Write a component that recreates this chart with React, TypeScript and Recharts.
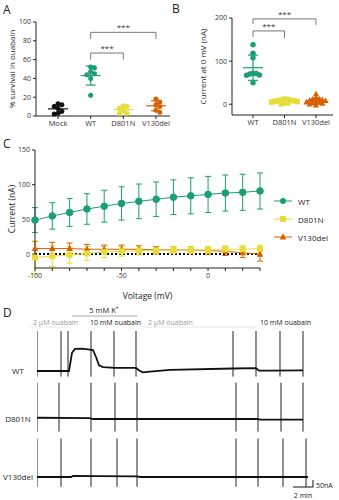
import React from "react";
import {
  ScatterChart,
  Scatter,
  XAxis,
  YAxis,
  ErrorBar,
  ReferenceLine,
  LineChart,
  Line,
} from "recharts";

const green = "#1b9e77";
const yellow = "#e8dc3a";
const orange = "#d95f02";
const black = "#111";

// A: % survival in ouabain
const groupsA = ["Mock", "WT", "D801N", "V130del"];
const mockA = [13, 12, 10, 8, 5, 3, 2];
const wtA = [52, 51, 47, 45, 44, 40, 22];
const d801nA = [11, 10, 8, 6, 3, 3];
const v130A = [18, 15, 12, 10, 6, 4];

// B: current at 0 mV
const groupsB = ["WT", "D801N", "V130del"];
const wtB = [138, 118, 108, 72, 71, 70, 68, 67, 50];
const d801nB = [12, 11, 10, 9, 8, 8, 7, 6, 5, 4, 3, 1];
const v130B = [24, 15, 12, 11, 10, 9, 8, 6, 5, 4, 3, 2, 0, -2];

// C: I-V curves
const voltage = [-100, -90, -80, -70, -60, -50, -40, -30, -20, -10, 0, 10, 20, 30];
const wtC = [49, 55, 60, 65, 69, 73, 76, 79, 82, 84, 86, 88, 89, 91];
const wtSdC = [18, 19, 20, 22, 23, 24, 25, 25, 25, 26, 26, 26, 26, 26];
const d801nC = [-5, -3, -1, 1, 3, 4, 5, 5, 6, 6, 6, 7, 7, 8];
const d801nSdC = [24, 15, 12, 10, 8, 7, 6, 5, 5, 5, 5, 5, 5, 5];
const v130C = [8, 8, 8, 7, 7, 7, 7, 6, 6, 6, 5, 4, 2, 0];
const v130SdC = [10, 9, 8, 7, 6, 6, 5, 5, 5, 5, 5, 6, 7, 10];

// D: traces, [minutes, nA]
const wtTrace = [
  [0, 0], [3.2, 0], [3.5, 130], [3.8, 158], [4.5, 160], [5.3, 153], [5.6, 150],
  [5.9, 100], [6.2, 40], [6.6, 28], [7.8, 22], [9.9, 22], [10.3, 0], [10.6, -10],
  [11.3, -4], [13.3, 8], [19.6, 18], [21.9, 20], [22.2, 2], [23.3, 2], [26.6, 4],
];
const d801nTrace = [[0, 9], [5.3, 6], [5.6, 0], [22, 0], [22.3, -4], [26.6, -4]];
const v130Trace = [[0, 0], [3.4, 0], [3.6, 7], [6, 6], [10, 5], [10.3, 0], [27.1, 0]];
const wtSpikes = [0, 2.4, 3.1, 5.4, 7.7, 9.9, 19.6, 21.9, 24.3, 26.6];
const d801nSpikes = [0, 2.2, 5.4, 7.8, 10.0, 19.9, 22.1, 24.4, 26.6];
const v130Spikes = [0, 2.4, 5.4, 8.0, 10.0, 19.9, 22.1, 24.6, 26.9];

const mean = (a: number[]) => a.reduce((s, v) => s + v, 0) / a.length;
const sd = (a: number[]) => {
  const m = mean(a);
  return Math.sqrt(a.reduce((s, v) => s + (v - m) ** 2, 0) / (a.length - 1));
};

// simple beeswarm so the dots don't sit on top of each other
function dodge(vals: number[], yPx: number, xPx: number, d: number) {
  const placed: [number, number][] = [];
  return vals.map((v) => {
    const y = v * yPx;
    for (let k = 0; k < 40; k++) {
      const off = (k % 2 ? 1 : -1) * Math.ceil(k / 2) * d * 0.5;
      if (placed.every(([px, py]) => (px - off) ** 2 + (py - y) ** 2 >= d * d)) {
        placed.push([off, y]);
        return off / xPx;
      }
    }
    return 0;
  });
}

const points = (vals: number[], idx: number, yPx: number, xPx: number, d: number) => {
  const offs = dodge(vals, yPx, xPx, d);
  return vals.map((v, i) => ({ x: idx + offs[i], y: v }));
};

const circle = (r: number, color: string) => (p: any) =>
  <circle key={p.index} cx={p.cx} cy={p.cy} r={r} fill={color} />;
const square = (s: number, color: string) => (p: any) =>
  <rect key={p.index} x={p.cx - s / 2} y={p.cy - s / 2} width={s} height={s} fill={color} />;
const triangle = (s: number, color: string) => (p: any) => (
  <path
    key={p.index}
    d={`M${p.cx},${p.cy - s * 0.62} L${p.cx + s * 0.55},${p.cy + s * 0.42} L${p.cx - s * 0.55},${p.cy + s * 0.42} Z`}
    fill={color}
  />
);
const meanLine = (color: string) => (p: any) =>
  <line x1={p.cx - 10} x2={p.cx + 10} y1={p.cy} y2={p.cy} stroke={color} strokeWidth={1.2} />;

const tick = { fontSize: 7, fill: "#333" };
const axisLine = { stroke: "#222" };
const bracket = { stroke: "#555", strokeWidth: 0.8 };

const seriesA = [
  { vals: mockA, color: black },
  { vals: wtA, color: green },
  { vals: d801nA, color: yellow },
  { vals: v130A, color: orange },
];
const seriesB = [
  { vals: wtB, color: green, shape: "circle" },
  { vals: d801nB, color: yellow, shape: "square" },
  { vals: v130B, color: orange, shape: "triangle" },
];
const seriesC = [
  { key: "wt", name: "WT", color: green, shape: "circle" },
  { key: "d801n", name: "D801N", color: yellow, shape: "square" },
  { key: "v130", name: "V130del", color: orange, shape: "triangle" },
];

const rowsC = voltage.map((v, i) => ({
  v,
  wt: wtC[i],
  wtSd: wtSdC[i],
  d801n: d801nC[i],
  d801nSd: d801nSdC[i],
  v130: v130C[i],
  v130Sd: v130SdC[i],
}));

const toRows = (tr: number[][]) => tr.map(([t, i]) => ({ t, i }));
const spikeRows = (times: number[], up: number, down: number) =>
  times.flatMap((t) => [{ t, i: up }, { t, i: down }, { t, i: null }]);

const traces = [
  { name: "WT", trace: wtTrace, spikes: wtSpikes, up: 285, down: -40, top: 329, labelY: 371 },
  { name: "D801N", trace: d801nTrace, spikes: d801nSpikes, up: 260, down: -90, top: 377, labelY: 419 },
  { name: "V130del", trace: v130Trace, spikes: v130Spikes, up: 275, down: -70, top: 435, labelY: 477 },
];

const shapeFor = (shape: string, color: string, size: number) =>
  shape === "square" ? square(size, color) : shape === "triangle" ? triangle(size, color) : circle(size / 2, color);

function PanelA() {
  return (
    <div style={{ position: "absolute", left: 0, top: 0 }}>
      <ScatterChart width={170} height={140} margin={{ top: 22, right: 0, left: 0, bottom: 0 }}>
        <XAxis
          type="number"
          dataKey="x"
          domain={[-0.675, 3.43]}
          ticks={[0, 1, 2, 3]}
          interval={0}
          tickFormatter={(i) => groupsA[i]}
          height={24}
          tick={{ ...tick, fontSize: 7.5 }}
          tickSize={3}
          axisLine={axisLine}
          tickLine={axisLine}
          allowDataOverflow
        />
        <YAxis
          type="number"
          dataKey="y"
          domain={[0, 100]}
          ticks={[0, 20, 40, 60, 80, 100]}
          width={36}
          tick={tick}
          tickSize={3}
          axisLine={axisLine}
          tickLine={axisLine}
          label={{ value: "% survival in ouabain", angle: -90, position: "center", dx: -6, fontSize: 8, fill: "#222" }}
        />
        {seriesA.map((s, i) => (
          <Scatter
            key={"p" + i}
            data={points(s.vals, i, 0.94, 32.6, 3.8)}
            shape={circle(2.5, s.color)}
            isAnimationActive={false}
          />
        ))}
        {seriesA.map((s, i) => (
          <Scatter
            key={"m" + i}
            data={[{ x: i, y: mean(s.vals), sd: sd(s.vals) }]}
            shape={meanLine(s.color)}
            isAnimationActive={false}
          >
            <ErrorBar dataKey="sd" direction="y" width={5} stroke={s.color} strokeWidth={1.2} />
          </Scatter>
        ))}
        <ReferenceLine segment={[{ x: 1, y: 89 }, { x: 3, y: 89 }]} {...bracket}
          label={{ value: "***", position: "top", fontSize: 8, fill: "#333", offset: 2 }} />
        <ReferenceLine segment={[{ x: 1, y: 89 }, { x: 1, y: 82 }]} {...bracket} />
        <ReferenceLine segment={[{ x: 3, y: 89 }, { x: 3, y: 82 }]} {...bracket} />
        <ReferenceLine segment={[{ x: 1, y: 67 }, { x: 2, y: 67 }]} {...bracket}
          label={{ value: "***", position: "top", fontSize: 8, fill: "#333", offset: 2 }} />
        <ReferenceLine segment={[{ x: 1, y: 67 }, { x: 1, y: 60 }]} {...bracket} />
        <ReferenceLine segment={[{ x: 2, y: 67 }, { x: 2, y: 60 }]} {...bracket} />
      </ScatterChart>
    </div>
  );
}

function PanelB() {
  return (
    <div style={{ position: "absolute", left: 170, top: 0 }}>
      <ScatterChart width={169} height={140} margin={{ top: 18, right: 6, left: 0, bottom: 0 }}>
        <XAxis
          type="number"
          dataKey="x"
          domain={[-0.667, 2.54]}
          ticks={[0, 1, 2]}
          interval={0}
          tickFormatter={(i) => groupsB[i]}
          height={25}
          tick={{ ...tick, fontSize: 7.5 }}
          tickSize={3}
          axisLine={axisLine}
          tickLine={axisLine}
          allowDataOverflow
        />
        <YAxis
          type="number"
          dataKey="y"
          domain={[-25, 200]}
          ticks={[0, 100, 200]}
          width={62}
          tick={tick}
          tickSize={3}
          axisLine={axisLine}
          tickLine={axisLine}
          allowDataOverflow
          label={{ value: "Current at 0 mV (nA)", angle: -90, position: "center", dx: 2, fontSize: 8, fill: "#222" }}
        />
        {seriesB.map((s, i) => (
          <Scatter
            key={"p" + i}
            data={points(s.vals, i, 0.43, 31.5, 3.2)}
            shape={shapeFor(s.shape, s.color, 5.5)}
            isAnimationActive={false}
          />
        ))}
        {seriesB.map((s, i) => (
          <Scatter
            key={"m" + i}
            data={[{ x: i, y: mean(s.vals), sd: sd(s.vals) }]}
            shape={meanLine(s.color)}
            isAnimationActive={false}
          >
            <ErrorBar dataKey="sd" direction="y" width={5} stroke={s.color} strokeWidth={1.2} />
          </Scatter>
        ))}
        <ReferenceLine segment={[{ x: 0, y: 198 }, { x: 2, y: 198 }]} {...bracket} ifOverflow="visible"
          label={{ value: "***", position: "top", fontSize: 8, fill: "#333", offset: 2 }} />
        <ReferenceLine segment={[{ x: 0, y: 198 }, { x: 0, y: 186 }]} {...bracket} />
        <ReferenceLine segment={[{ x: 2, y: 198 }, { x: 2, y: 184 }]} {...bracket} />
        <ReferenceLine segment={[{ x: 0, y: 170 }, { x: 1, y: 170 }]} {...bracket}
          label={{ value: "***", position: "top", fontSize: 8, fill: "#333", offset: 2 }} />
        <ReferenceLine segment={[{ x: 0, y: 170 }, { x: 0, y: 156 }]} {...bracket} />
        <ReferenceLine segment={[{ x: 1, y: 170 }, { x: 1, y: 153 }]} {...bracket} />
      </ScatterChart>
    </div>
  );
}

function PanelC() {
  return (
    <div style={{ position: "absolute", left: 0, top: 140 }}>
      <LineChart width={339} height={165} data={rowsC} margin={{ top: 10, right: 79, left: 0, bottom: 0 }}>
        <XAxis
          type="number"
          dataKey="v"
          domain={[-100, 30]}
          ticks={voltage}
          interval={0}
          tickFormatter={(v) => (v % 50 === 0 ? String(v) : "")}
          height={37}
          tick={tick}
          tickSize={3}
          axisLine={axisLine}
          tickLine={axisLine}
          label={{ value: "Voltage (mV)", position: "insideBottom", offset: 6, fontSize: 8.5, fill: "#222" }}
        />
        <YAxis
          type="number"
          domain={[-20, 150]}
          ticks={[0, 50, 100, 150]}
          width={35}
          tick={tick}
          tickSize={3}
          axisLine={axisLine}
          tickLine={axisLine}
          allowDataOverflow
          label={{ value: "Current (nA)", angle: -90, position: "center", dx: -5.5, fontSize: 8.5, fill: "#222" }}
        />
        <ReferenceLine y={0} stroke="#000" strokeWidth={2} strokeDasharray="2 2" />
        {[...seriesC].reverse().map((s) => (
          <Line
            key={s.key}
            dataKey={s.key}
            stroke={s.color}
            strokeWidth={1}
            dot={s.shape === "circle" ? { r: 3.3, fill: s.color, stroke: s.color } : shapeFor(s.shape, s.color, 6)}
            isAnimationActive={false}
          >
            <ErrorBar dataKey={s.key + "Sd"} direction="y" width={3} stroke={s.color} strokeWidth={1} />
          </Line>
        ))}
      </LineChart>
      <div style={{ position: "absolute", left: 272, top: 52, fontSize: 8, color: "#222" }}>
        {seriesC.map((s) => (
          <div key={s.key} style={{ display: "flex", alignItems: "center", height: 18 }}>
            <svg width={24} height={10}>
              <line x1={2} x2={20} y1={5} y2={5} stroke={s.color} strokeWidth={1} />
              {shapeFor(s.shape, s.color, 6)({ cx: 11, cy: 5, index: 0 })}
            </svg>
            <span style={{ marginLeft: 2 }}>{s.name}</span>
          </div>
        ))}
      </div>
    </div>
  );
}

function PanelD() {
  return (
    <>
      {traces.map((tr) => (
        <div key={tr.name} style={{ position: "absolute", left: 37, top: tr.top }}>
          <LineChart width={272} height={56} margin={{ top: 0, right: 0, left: 0, bottom: 0 }}>
            <XAxis type="number" dataKey="t" domain={[0, 27.2]} hide />
            <YAxis type="number" domain={[-100, 300]} hide />
            <Line data={spikeRows(tr.spikes, tr.up, tr.down)} dataKey="i" stroke="#222" strokeWidth={1}
              dot={false} isAnimationActive={false} />
            <Line data={toRows(tr.trace)} dataKey="i" stroke="#111" strokeWidth={1.8}
              dot={false} isAnimationActive={false} />
          </LineChart>
        </div>
      ))}
      <svg width={339} height={500} style={{ position: "absolute", left: 0, top: 0, pointerEvents: "none" }}>
        <g fontSize={12} fill="#222">
          <text x={3} y={14}>A</text>
          <text x={172} y={13}>B</text>
          <text x={3} y={148}>C</text>
          <text x={3} y={317}>D</text>
        </g>
        <text x={104} y={313} fontSize={7.5} textAnchor="middle" fill="#222">
          5 mM K<tspan dy={-3} fontSize={5}>+</tspan>
        </text>
        <line x1={72} x2={137} y1={316} y2={316} stroke="#888" strokeWidth={0.7} />
        <line x1={30} x2={70} y1={327} y2={327} stroke="#ddd" strokeWidth={0.7} />
        <line x1={142} x2={256} y1={327} y2={327} stroke="#ddd" strokeWidth={0.7} />
        <g fontSize={7}>
          <text x={33} y={325} fill="#999">2 μM ouabain</text>
          <text x={90} y={325} fill="#222">10 mM ouabain</text>
          <text x={148} y={325} fill="#999">2 μM ouabain</text>
          <text x={260} y={325} fill="#222">10 mM ouabain</text>
        </g>
        <g fontSize={8} fill="#222" textAnchor="middle">
          {traces.map((tr) => (
            <text key={tr.name} x={18} y={tr.labelY + 3}>{tr.name}</text>
          ))}
        </g>
        <path d="M293,487 H313 V480" fill="none" stroke="#111" strokeWidth={1} />
        <text x={316} y={488} fontSize={7} fill="#222">50nA</text>
        <text x={303} y={498} fontSize={7} fill="#222" textAnchor="middle">2 min</text>
      </svg>
    </>
  );
}

export default function App() {
  return (
    <div
      style={{
        position: "absolute",
        left: 0,
        top: 0,
        width: 339,
        height: 500,
        background: "#fff",
        fontFamily: "'Open Sans', sans-serif",
      }}
    >
      <PanelA />
      <PanelB />
      <PanelC />
      <PanelD />
    </div>
  );
}
